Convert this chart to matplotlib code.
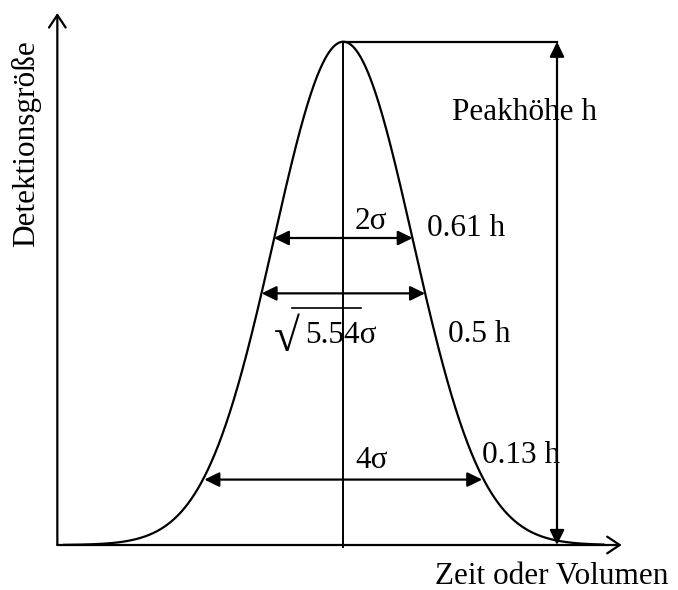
import numpy as np
import matplotlib
matplotlib.use("Agg")
import matplotlib.pyplot as plt

plt.rcParams['font.family'] = ['Liberation Serif', 'DejaVu Serif']

# Peak model (x in units of sigma, y in units of the peak height h)
peak_center = 0.0
peak_sigma = 1.0
peak_height = 1.0

# Width markers: level (fraction of h), full width (in sigma), labels
marker_levels = [0.61, 0.5, 0.13]
marker_widths = [2.0, np.sqrt(5.54), 4.0]
level_labels = ['0.61 h', '0.5 h', '0.13 h']
width_labels = ['2σ', '5.54σ', '4σ']

x_label = 'Zeit oder Volumen'
y_label = 'Detektionsgröße'
height_label = 'Peakhöhe h'

# Axis extents (sigma / h units)
x_axis_start, x_axis_end = -4.115, 4.006
y_axis_end = 1.057
height_arrow_x = 3.075
curve_start, curve_end = -4.03, 3.75

fig = plt.figure(figsize=(6.78, 5.90), dpi=100)
ax = fig.add_axes([0, 0, 1, 1])
ax.set_xlim(-4.940, 4.816)
ax.set_ylim(-0.0894, 1.0829)
ax.axis('off')

lw = 1.6
fs = 22.5

# Gaussian peak
x = np.linspace(curve_start, curve_end, 800)
y = peak_height * np.exp(-0.5 * ((x - peak_center) / peak_sigma) ** 2)
ax.plot(x, y, color='black', lw=lw, solid_capstyle='round', zorder=3)

# Coordinate axes with open arrowheads
axis_arrow = dict(arrowstyle='->,head_length=0.45,head_width=0.3',
                  mutation_scale=20, lw=lw, color='black',
                  shrinkA=0, shrinkB=0)
ax.annotate('', xy=(x_axis_start, y_axis_end), xytext=(x_axis_start, 0),
            arrowprops=axis_arrow)
ax.annotate('', xy=(x_axis_end, 0), xytext=(x_axis_start, 0),
            arrowprops=axis_arrow)

# Centre line and peak-height guide
ax.plot([peak_center, peak_center], [-0.003, peak_height], color='black', lw=1.4)
ax.plot([peak_center, height_arrow_x], [peak_height, peak_height], color='black', lw=lw)

dbl_arrow = dict(arrowstyle='<|-|>,head_length=0.45,head_width=0.22',
                 mutation_scale=20, lw=lw, color='black',
                 shrinkA=0, shrinkB=0)
ax.annotate('', xy=(height_arrow_x, peak_height), xytext=(height_arrow_x, 0),
            arrowprops=dbl_arrow)

# Width arrows at the marked levels
for lev, w in zip(marker_levels, marker_widths):
    ax.annotate('', xy=(peak_center + w / 2, lev), xytext=(peak_center - w / 2, lev),
                arrowprops=dbl_arrow)

txt = dict(fontsize=fs, ha='left', va='baseline', color='black')

# Width labels
ax.text(0.168, marker_levels[0] + 0.018, width_labels[0], **txt)
ax.text(0.168, marker_levels[2] + 0.023, width_labels[2], **txt)
# square-root label for the half-height width
ax.text(-0.995, 0.385, '√', fontsize=34, ha='left', va='baseline',
        color='black')
ax.text(-0.551, 0.401, width_labels[1], **txt)
ax.plot([-0.735, 0.255], [0.471, 0.471], color='black', lw=1.2)

# Level labels
ax.text(1.204, 0.614, level_labels[0], **txt)
ax.text(1.506, 0.403, level_labels[1], **txt)
ax.text(1.991, 0.163, level_labels[2], **txt)

ax.text(1.56, 0.844, height_label, **txt)

# Axis titles
ax.text(1.319, -0.0775, x_label, **txt)
ax.text(-4.45, 0.592, y_label, fontsize=fs, rotation=90, rotation_mode='anchor',
        ha='left', va='baseline')

fig.savefig('out.png', dpi=100)
